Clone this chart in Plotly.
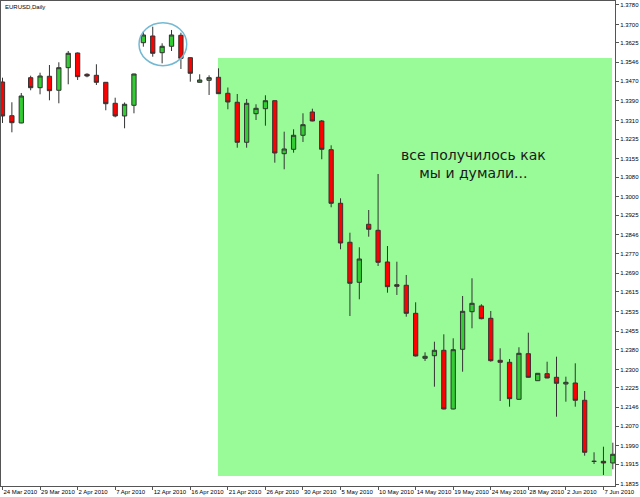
import plotly.graph_objects as go

# ---- data (EURUSD daily) ----
opens = [1.34663, 1.33296, 1.33000, 1.34838, 1.34432, 1.34895, 1.34327, 1.35244, 1.35840, 1.34976,
         1.34935, 1.34651, 1.33799, 1.33284, 1.33718, 1.36258, 1.36530, 1.35852, 1.36112, 1.36559,
         1.35650, 1.34651, 1.34732, 1.34854, 1.34205, 1.33840, 1.32217, 1.33377, 1.33580, 1.33905,
         1.31754, 1.31932, 1.32501, 1.33446, 1.33081, 1.31916, 1.29741, 1.28159, 1.26535, 1.28889,
         1.28645, 1.27359, 1.26438, 1.26414, 1.25277, 1.23451, 1.23557, 1.23776, 1.21394, 1.23816,
         1.25342, 1.25574, 1.25074, 1.23370, 1.23289, 1.21787, 1.23638, 1.22542, 1.22826, 1.22680,
         1.22408, 1.22449, 1.21747, 1.19271, 1.19271, 1.19203]
highs = [1.34838, 1.33840, 1.34217, 1.34919, 1.35041, 1.35353, 1.35463, 1.35921, 1.35860, 1.35017,
         1.35382, 1.34660, 1.34026, 1.33832, 1.35000, 1.36705, 1.36908, 1.36234, 1.36774, 1.36664,
         1.35660, 1.34976, 1.34935, 1.35219, 1.34440, 1.34176, 1.33974, 1.33759, 1.34124, 1.33913,
         1.32647, 1.32744, 1.33393, 1.33580, 1.33121, 1.32095, 1.29944, 1.28548, 1.27956, 1.29469,
         1.30930, 1.28008, 1.27371, 1.26832, 1.25724, 1.23695, 1.24125, 1.24425, 1.24263, 1.25979,
         1.26698, 1.25643, 1.25371, 1.23857, 1.23423, 1.23898, 1.24490, 1.22850, 1.23313, 1.23516,
         1.22705, 1.23248, 1.22124, 1.19637, 1.19864, 1.20026]
lows = [1.33000, 1.32622, 1.32990, 1.34327, 1.34164, 1.33921, 1.33799, 1.34570, 1.34745, 1.34854,
        1.34542, 1.33515, 1.33231, 1.32785, 1.33393, 1.36096, 1.35690, 1.35422, 1.35921, 1.35191,
        1.34676, 1.34640, 1.34136, 1.34176, 1.33556, 1.31997, 1.31997, 1.33121, 1.32890, 1.31389,
        1.31121, 1.31794, 1.32229, 1.33069, 1.31527, 1.29579, 1.27874, 1.25168, 1.25845, 1.28386,
        1.27197, 1.26113, 1.26020, 1.25139, 1.23525, 1.23342, 1.22299, 1.21380, 1.21380, 1.22907,
        1.24669, 1.25034, 1.23313, 1.21718, 1.21487, 1.21780, 1.22670, 1.22535, 1.22645, 1.21081,
        1.21690, 1.21487, 1.19499, 1.19162, 1.18716, 1.18947]
closes = [1.33284, 1.33012, 1.34095, 1.34432, 1.34907, 1.34310, 1.35244, 1.35828, 1.34879, 1.34907,
          1.34651, 1.33783, 1.33284, 1.33759, 1.34988, 1.36571, 1.35828, 1.36112, 1.36571, 1.35625,
          1.35017, 1.34745, 1.34838, 1.34189, 1.33852, 1.32217, 1.33799, 1.33596, 1.33905, 1.31782,
          1.31945, 1.32501, 1.32931, 1.33081, 1.31932, 1.29741, 1.28130, 1.26495, 1.27481, 1.28686,
          1.27347, 1.26357, 1.26373, 1.25277, 1.23545, 1.23532, 1.23776, 1.21394, 1.23800, 1.25358,
          1.25683, 1.25058, 1.23354, 1.23289, 1.21812, 1.23654, 1.22680, 1.22842, 1.22652, 1.22437,
          1.22477, 1.21747, 1.19637, 1.19268, 1.19203, 1.19556]

date_labels = ["24 Mar 2010", "29 Mar 2010", "2 Apr 2010", "7 Apr 2010", "12 Apr 2010",
               "16 Apr 2010", "21 Apr 2010", "26 Apr 2010", "30 Apr 2010", "5 May 2010",
               "10 May 2010", "14 May 2010", "19 May 2010", "24 May 2010", "28 May 2010",
               "2 Jun 2010", "7 Jun 2010"]
price_labels = ["1.3780", "1.3700", "1.3625", "1.3546", "1.3470", "1.3390", "1.3310", "1.3235",
                "1.3155", "1.3080", "1.3000", "1.2925", "1.2846", "1.2770", "1.2690", "1.2615",
                "1.2535", "1.2455", "1.2380", "1.2300", "1.2225", "1.2146", "1.2070", "1.1990",
                "1.1915", "1.1835"]

title_text = "EURUSD,Daily"
note_text = "все получилось как<br>мы и думали..."

# ---- figure ----
n = len(opens)
xs = list(range(n))
small_font = "Liberation Sans Narrow, Arial Narrow, Liberation Sans, Arial"

fig = go.Figure()
fig.add_trace(go.Candlestick(
    x=xs, open=opens, high=highs, low=lows, close=closes,
    increasing=dict(fillcolor="#32CD32", line=dict(color="#333333", width=1)),
    decreasing=dict(fillcolor="#FF0000", line=dict(color="#333333", width=1)),
    whiskerwidth=0, hoverinfo="skip", showlegend=False,
))

# shaded zone
fig.add_shape(type="rect", xref="x", yref="y", x0=22.95, x1=64.91, y0=1.18675, y1=1.35637,
              fillcolor="#98FB98", line=dict(width=0), layer="below")
# circle around the top
fig.add_shape(type="circle", xref="x", yref="y", x0=14.54, x1=19.62, y0=1.35325, y1=1.37070,
              line=dict(color="#74B9D3", width=1.5), fillcolor="rgba(0,0,0,0)")

fig.add_annotation(text=note_text, xref="x", yref="y", x=50.2, y=1.31336,
                   showarrow=False, align="center",
                   font=dict(family="DejaVu Sans", size=14, color="#1a1a1a"))
fig.add_annotation(text=title_text, xref="paper", yref="paper", x=0.004, y=0.997,
                   xanchor="left", yanchor="top", showarrow=False,
                   font=dict(family=small_font, size=6, color="#000000"))

fig.update_layout(
    width=640, height=497,
    margin=dict(l=1, r=25, t=1, b=11, autoexpand=False),
    paper_bgcolor="white", plot_bgcolor="white",
    boxgap=0.35,
    xaxis=dict(
        range=[-0.16, 65.23], rangeslider=dict(visible=False),
        tickmode="array", tickvals=xs[::4], ticktext=date_labels,
        ticklabelposition="outside right", tickangle=0, automargin=False,
        ticks="outside", ticklen=3, tickcolor="#555555",
        showgrid=False, zeroline=False,
        showline=True, mirror=True, linecolor="#555555", linewidth=1,
        tickfont=dict(family=small_font, size=6, color="#000000"),
    ),
    yaxis=dict(
        range=[1.18269, 1.37950], side="right", automargin=False,
        tickmode="array", tickvals=[float(v) for v in price_labels], ticktext=price_labels,
        ticks="outside", ticklen=3, tickcolor="#555555",
        showgrid=False, zeroline=False,
        showline=True, mirror=True, linecolor="#555555", linewidth=1,
        tickfont=dict(family=small_font, size=6, color="#000000"),
    ),
)

fig.write_html("out.html", config={"displayModeBar": False},
               post_script="document.body.style.margin='0px';")
